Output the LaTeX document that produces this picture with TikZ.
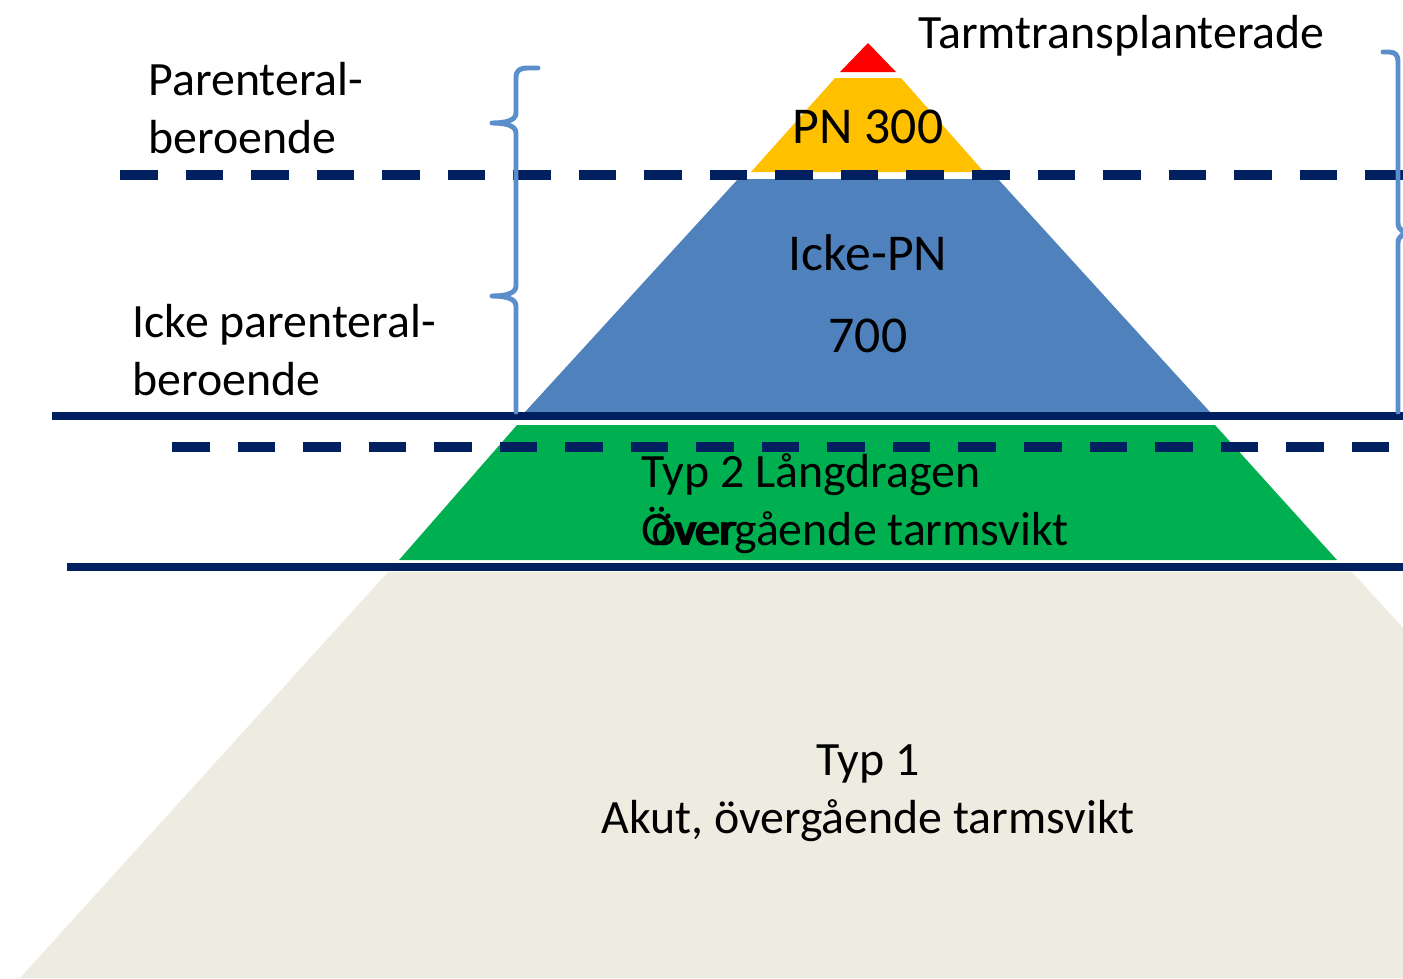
\documentclass[tikz,border=0pt]{standalone}
\usepackage{fontspec}
\setmainfont{Carlito}
\definecolor{tx-red}{HTML}{FF0000}
\definecolor{pn-yellow}{HTML}{FFC000}
\definecolor{ipn-blue}{HTML}{4F81BD}
\definecolor{typ2-green}{HTML}{00B050}
\definecolor{typ1-beige}{HTML}{EEECE1}
\definecolor{line-navy}{HTML}{002060}
\definecolor{brace-blue}{HTML}{5A8FCB}

\begin{document}
\begin{tikzpicture}[x=0.01cm, y=-0.01cm, nodes={inner sep=0pt},
    lbl/.style={font=\fontsize{13.6}{16.4}\selectfont, align=left, anchor=base west},
    big/.style={font=\fontsize{14.7}{17}\selectfont, anchor=base},
    dashline/.style={line-navy, line width=2.85pt, dash pattern=on 0.375cm off 0.28cm},
    solidline/.style={line-navy, line width=2.3pt},
    brace/.style={brace-blue, line width=1.4pt, line cap=round, line join=round}]
        \useasboundingbox (0,0) rectangle (1403,978);
        \clip (0,0) rectangle (1403,978);

        \fill[typ1-beige] (388,572) -- (1352,572) -- (1722,978) -- (20,978) -- cycle;
        \fill[typ2-green] (517,425) -- (1215,425) -- (1337,560) -- (399,560) -- cycle;
        \fill[ipn-blue] (738,179) -- (998,179) -- (1210,412) -- (525,412) -- cycle;
        \fill[pn-yellow] (835,78) -- (901,78) -- (984,172) -- (751,172) -- cycle;
        \fill[tx-red] (868,43) -- (896,72) -- (840,72) -- cycle;

        \draw[solidline] (52,416) -- (1403,416);
        \draw[solidline] (67,567) -- (1403,567);
        \draw[dashline] (120,175) -- (1403,175);
        \draw[dashline] (172,447) -- (1403,447);

        \draw[brace] (538,68) -- (528,68) .. controls (520,68) and (516,70) .. (516,78)
            -- (516,113) .. controls (516,121) and (504,123) .. (492,123)
            .. controls (504,123) and (516,125) .. (516,133)
            -- (516,286) .. controls (516,294) and (504,296) .. (492,296)
            .. controls (504,296) and (516,298) .. (516,306) -- (516,412);
        \draw[brace] (1383,52) -- (1389,52) .. controls (1395,52) and (1398,55) .. (1398,61)
            -- (1398,223) .. controls (1398,230) and (1404,233) .. (1410,233)
            .. controls (1404,233) and (1398,236) .. (1398,243) -- (1398,412);

        \node[lbl] (tx) at (918,48) {Tarmtransplanterade};
        \node[lbl] (pnb) at (148,153) {Parenteral-\\beroende};
        \node[lbl] (ipnb) at (132,395) {Icke parenteral-\\beroende};
        \node[big] (pn) at (868,143) {PN 300};
        \node[big] (ipn) at (868,270) {Icke-PN};
        \node[big] (ipnn) at (868,352) {700};
        \node[lbl] (typ2) at (641,545) {Typ 2 Långdragen\\Övergående tarmsvikt};
        \node[lbl] (over) at (651,545) {över};
        \node[lbl, align=center, anchor=base] (typ1) at (868,833) {Typ 1\\Akut, övergående tarmsvikt};
      \end{tikzpicture}
\end{document}
